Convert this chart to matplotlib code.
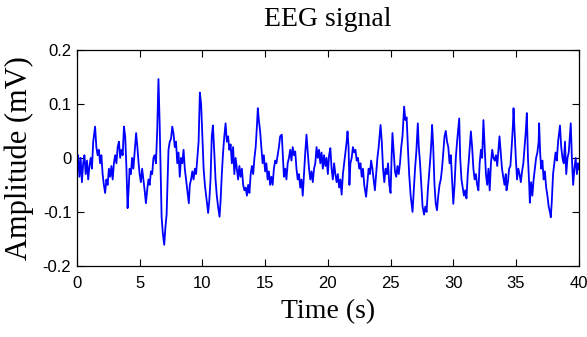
import matplotlib

matplotlib.use("Agg")
import matplotlib.pyplot as plt
import numpy as np

# EEG trace, (time s, amplitude mV)
time_s = [
    0.0, 0.1, 0.2, 0.3, 0.4, 0.5, 0.6, 0.7, 0.8, 0.9, 1.0, 1.1, 1.2, 1.3, 1.45, 1.55, 1.65, 1.75, 1.85, 1.95,
    2.05, 2.15, 2.25, 2.35, 2.45, 2.55, 2.65, 2.75, 2.85, 2.95, 3.05, 3.15, 3.25, 3.35, 3.45, 3.55, 3.65, 3.75, 3.85, 3.95,
    4.04, 4.12, 4.2, 4.3, 4.4, 4.5, 4.6, 4.72, 4.82, 4.92, 5.0, 5.1, 5.2, 5.3, 5.4, 5.5, 5.6, 5.7, 5.8, 5.9,
    6.0, 6.1, 6.2, 6.3, 6.4, 6.5, 6.6, 6.75, 6.85, 6.96, 7.05, 7.15, 7.3, 7.4,
    7.5, 7.6, 7.7, 7.8, 7.9, 8.0, 8.1, 8.2, 8.3, 8.4, 8.5, 8.6, 8.7, 8.8, 8.92, 9.0, 9.1, 9.2, 9.3, 9.4,
    9.5, 9.6, 9.7, 9.8, 9.9, 10.0, 10.1, 10.2, 10.3, 10.4, 10.46, 10.55, 10.65, 10.75, 10.84, 10.95, 11.05, 11.15, 11.25, 11.37,
    11.45, 11.55, 11.65, 11.75, 11.85, 11.95, 12.05, 12.15, 12.25, 12.35, 12.45, 12.55, 12.65, 12.75, 12.85, 12.95, 13.05, 13.15, 13.25, 13.35,
    13.45, 13.55, 13.65, 13.75, 13.85, 13.95, 14.05, 14.15, 14.25, 14.35, 14.42, 14.5, 14.6, 14.7, 14.8, 14.9, 15.0, 15.1, 15.2, 15.3,
    15.4, 15.5, 15.6, 15.7, 15.8, 15.9, 16.0, 16.1, 16.2, 16.33, 16.42, 16.5, 16.6, 16.7, 16.8, 16.9, 17.0, 17.1, 17.2, 17.3,
    17.4, 17.5, 17.6, 17.7, 17.8, 17.9, 18.0, 18.1, 18.2, 18.3, 18.4, 18.5, 18.6, 18.7, 18.8, 18.9, 19.0, 19.1, 19.2, 19.3,
    19.4, 19.5, 19.6, 19.7, 19.8, 19.9, 20.0, 20.1, 20.2, 20.3, 20.4, 20.5, 20.6, 20.7, 20.8, 20.9, 21.0, 21.1, 21.2, 21.3,
    21.4, 21.5, 21.57, 21.65, 21.72, 21.8, 21.9, 22.0, 22.1, 22.2, 22.3, 22.4, 22.5, 22.6, 22.7, 22.8, 22.9, 23.05, 23.15, 23.25,
    23.35, 23.45, 23.55, 23.65, 23.75, 23.85, 23.95, 24.05, 24.2, 24.3, 24.4, 24.5, 24.6, 24.7, 24.8, 24.9, 25.0, 25.08, 25.15, 25.25,
    25.35, 25.45, 25.55, 25.65, 25.75, 25.85, 25.95, 26.08, 26.18, 26.28, 26.38, 26.48, 26.6, 26.75, 26.85, 26.95, 27.05, 27.17, 27.25, 27.35,
    27.45, 27.55, 27.67, 27.77, 27.87, 27.97, 28.07, 28.17, 28.25, 28.31, 28.4, 28.5, 28.6, 28.7, 28.8, 28.9, 29.0, 29.1, 29.2, 29.3,
    29.4, 29.5, 29.6, 29.7, 29.8, 29.9, 30.0, 30.1, 30.2, 30.3, 30.4, 30.47, 30.55, 30.65, 30.75, 30.85, 30.95, 31.05, 31.15, 31.25,
    31.4, 31.5, 31.6, 31.7, 31.8, 31.9, 32.0, 32.1, 32.2, 32.3, 32.4, 32.5, 32.6, 32.7, 32.8, 32.9, 33.0, 33.1, 33.2, 33.3,
    33.4, 33.5, 33.68, 33.78, 33.88, 33.98, 34.08, 34.18, 34.24, 34.35, 34.45, 34.55, 34.65, 34.75, 34.8, 34.88, 34.98, 35.08, 35.18, 35.28,
    35.38, 35.48, 35.58, 35.68, 35.78, 35.86, 35.95, 36.05, 36.1, 36.2, 36.3, 36.4, 36.5, 36.6, 36.7, 36.8, 36.84, 36.92, 37.0, 37.1,
    37.2, 37.3, 37.4, 37.5, 37.6, 37.7, 37.77, 37.85, 37.95, 38.05, 38.15, 38.25, 38.35, 38.5, 38.6, 38.7, 38.8, 38.9, 39.0, 39.1,
    39.2, 39.36, 39.45, 39.55, 39.65, 39.75, 39.85, 39.95, 40.0,
]
amplitude_mv = [
    -0.02, 0.005, -0.035, 0.0, -0.045, -0.01, 0.005, -0.03, -0.005, -0.04, -0.015, 0.0, -0.02, 0.03, 0.058, 0.02, 0.005, 0.015, -0.01, 0.005,
    -0.03, -0.05, -0.065, -0.04, -0.05, -0.02, -0.035, -0.015, -0.04, -0.01, 0.005, -0.01, 0.02, 0.03, 0.0, 0.015, 0.005, 0.058, 0.04, -0.02,
    -0.093, -0.06, -0.02, -0.03, 0.0, -0.02, 0.01, 0.046, 0.02, -0.01, -0.03, -0.045, -0.02, -0.04, -0.06, -0.084, -0.06, -0.04, -0.05, -0.025,
    -0.03, 0.0, 0.005, -0.01, 0.05, 0.146, 0.06, -0.109, -0.14, -0.161, -0.13, -0.105, 0.015, 0.03,
    0.035, 0.058, 0.045, 0.02, 0.03, -0.01, 0.01, -0.035, 0.0, -0.01, 0.015, -0.02, -0.04, -0.06, -0.084, -0.05, -0.04, -0.025, -0.04, -0.02,
    -0.03, 0.0, 0.03, 0.121, 0.1, 0.04, -0.02, -0.05, -0.07, -0.09, -0.102, -0.08, -0.04, 0.04, 0.06, 0.01, -0.04, -0.07, -0.09, -0.109,
    -0.08, -0.03, 0.01, 0.04, 0.064, 0.03, 0.04, 0.015, 0.025, -0.01, 0.02, -0.03, 0.0, -0.02, -0.04, -0.015, -0.035, -0.02, -0.05, -0.06,
    -0.055, -0.07, -0.05, -0.065, -0.03, -0.015, -0.03, 0.0, 0.02, 0.06, 0.092, 0.07, 0.05, 0.02, -0.01, 0.005, -0.025, -0.01, -0.04, -0.025,
    -0.05, -0.035, -0.05, -0.02, -0.005, -0.01, 0.005, 0.02, 0.04, 0.043, 0.0, -0.035, -0.02, -0.04, -0.01, 0.0, 0.015, -0.005, 0.02, 0.005,
    0.012, -0.02, -0.04, -0.03, -0.055, -0.04, -0.07, -0.03, 0.01, 0.043, 0.01, -0.02, -0.04, -0.025, -0.045, -0.02, -0.01, 0.02, 0.0, 0.015,
    -0.01, 0.01, -0.02, 0.005, -0.015, 0.0, -0.03, 0.005, 0.018, -0.02, -0.04, -0.01, -0.03, -0.045, -0.03, -0.055, -0.04, -0.068, -0.03, -0.01,
    0.01, 0.03, 0.049, 0.02, -0.05, -0.01, 0.0, 0.02, 0.01, 0.015, -0.005, 0.0, -0.02, -0.01, -0.035, -0.02, -0.05, -0.072, -0.045, -0.02,
    -0.03, -0.005, -0.02, -0.04, -0.06, -0.03, 0.0, 0.02, 0.061, 0.03, -0.02, -0.045, -0.02, -0.03, -0.01, -0.05, -0.065, 0.0, 0.046, 0.01,
    -0.025, -0.035, -0.015, -0.03, -0.01, 0.02, 0.04, 0.095, 0.07, 0.075, 0.02, -0.03, -0.07, -0.1, -0.06, -0.02, 0.01, 0.064, 0.02, -0.01,
    -0.05, -0.09, -0.105, -0.09, -0.1, -0.06, -0.03, 0.0, 0.03, 0.061, 0.02, -0.05, -0.085, -0.097, -0.07, -0.05, -0.04, -0.02, 0.01, 0.04,
    0.05, 0.03, 0.02, -0.01, 0.005, -0.04, -0.085, -0.05, 0.0, 0.03, 0.055, 0.073, 0.0, -0.04, -0.055, -0.07, -0.06, -0.075, -0.03, 0.0,
    0.049, 0.02, -0.02, -0.04, -0.03, -0.05, -0.06, -0.01, 0.015, 0.0, 0.07, 0.02, -0.03, -0.05, -0.02, -0.06, -0.01, 0.015, 0.0, -0.005,
    0.005, -0.015, 0.04, 0.01, -0.02, -0.035, -0.05, -0.03, -0.06, -0.045, -0.02, -0.015, 0.02, 0.06, 0.092, 0.05, 0.0, -0.04, -0.02, -0.03,
    -0.045, -0.025, -0.01, 0.02, 0.05, 0.083, 0.0, -0.05, -0.083, -0.045, -0.07, -0.04, -0.02, 0.0, 0.01, 0.03, 0.064, 0.01, -0.02, -0.005,
    -0.04, -0.025, -0.055, -0.07, -0.09, -0.1, -0.11, -0.08, -0.03, -0.01, 0.01, -0.005, 0.03, 0.06, 0.02, 0.0, -0.01, 0.03, -0.03, 0.0,
    0.01, 0.064, 0.0, -0.05, -0.02, 0.0, -0.03, -0.01, -0.02,
]

x_ticks = [0, 5, 10, 15, 20, 25, 30, 35, 40]
y_ticks = [-0.2, -0.1, 0, 0.1, 0.2]
y_tick_labels = ["-0.2", "-0.1", "0", "0.1", "0.2"]

SERIF = ["Liberation Serif", "DejaVu Serif"]
TICK_FONT = ["Liberation Sans Narrow", "Liberation Sans", "DejaVu Sans"]


def main() -> int:
    fig = plt.figure(figsize=(5.87, 3.37), dpi=100)
    ax = fig.add_axes([0.131, 0.211, 0.855, 0.641])

    ax.plot(np.array(time_s), np.array(amplitude_mv), color="#0000ff", linewidth=1.3)

    ax.set_xlim(0, 40)
    ax.set_ylim(-0.2, 0.2)
    ax.set_xticks(x_ticks)
    ax.set_yticks(y_ticks)
    ax.set_yticklabels(y_tick_labels)
    ax.tick_params(axis="both", direction="in", top=True, right=True, length=5, width=0.8)
    ax.tick_params(axis="x", pad=7)
    ax.tick_params(axis="y", pad=4)
    for label in ax.get_xticklabels() + ax.get_yticklabels():
        label.set_family(TICK_FONT)
        label.set_fontsize(12)
    for spine in ax.spines.values():
        spine.set_linewidth(0.9)

    ax.set_title("EEG signal", family=SERIF, fontsize=20, pad=17)
    ax.set_xlabel("Time (s)", family=SERIF, fontsize=20, labelpad=6)
    ax.set_ylabel("Amplitude (mV)", family=SERIF, fontsize=22, labelpad=6)

    fig.savefig("out.png", dpi=100)
    plt.close(fig)
    return 0


if __name__ == "__main__":
    raise SystemExit(main())
